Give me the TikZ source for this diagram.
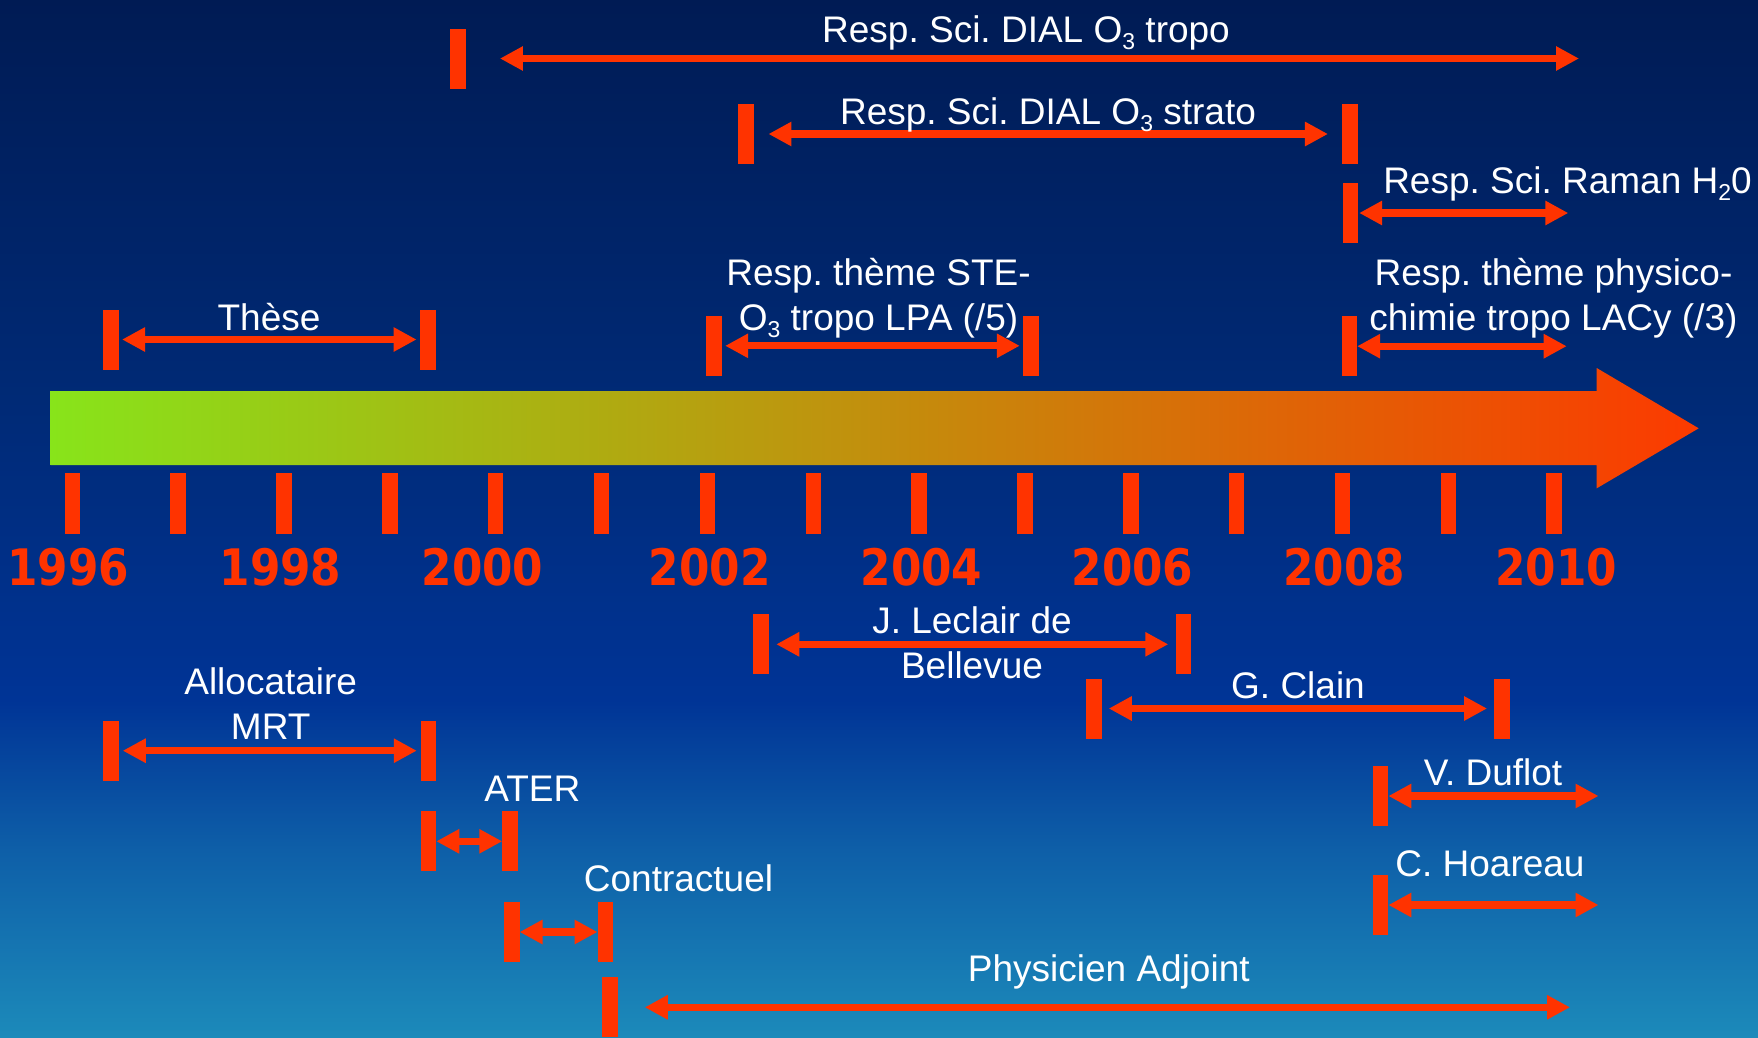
\documentclass[tikz,border=0pt]{standalone}
\usepackage{graphicx}
\usepackage{fontspec}
\setmainfont{Liberation Sans}
\newfontfamily\yearfont{DejaVu Sans}
\usetikzlibrary{arrows.meta}
\definecolor{tlred}{RGB}{255,51,0}
\definecolor{bgtop}{RGB}{0,27,84}
\definecolor{bga}{RGB}{0,42,118}
\definecolor{bgb}{RGB}{0,52,150}
\definecolor{bgc}{RGB}{14,95,168}
\definecolor{bgbot}{RGB}{28,138,186}
\definecolor{arrgreen}{RGB}{136,228,26}
\definecolor{arrred}{RGB}{252,58,0}
\pgfdeclareverticalshading{bgshade}{100bp}{color(0bp)=(bgbot); color(25bp)=(bgbot); color(34bp)=(bgc); color(41.25bp)=(bgb); color(55.7bp)=(bga); color(75bp)=(bgtop); color(100bp)=(bgtop)}
\newcommand\lowidx[1]{\raisebox{-7.5pt}{\fontsize{23}{23}\selectfont #1}}
\frenchspacing
\begin{document}
\begin{tikzpicture}[x=1pt,y=-1pt,
  spanbar/.style={rectangle, fill=tlred, minimum width=15.5pt, minimum height=60pt, inner sep=0pt, outer sep=0pt},
  spanarrow/.style={draw=tlred, line width=7.3pt, arrows={Triangle[length=23pt,width=23pt]-Triangle[length=23pt,width=23pt]}},
  lbl/.style={text=white, font=\frenchspacing\fontsize{37}{44.5}\selectfont, inner sep=0pt, anchor=base, align=center},
  yr/.style={text=tlred, font=\yearfont\bfseries\fontsize{50.3}{50}\selectfont, inner sep=0pt, anchor=base}]
\useasboundingbox (0,0) rectangle (1758,1037);
\shade[shading=bgshade] (0,0) rectangle (1758,1037);

% timeline arrow
\shade[left color=arrgreen, right color=arrred] (50.5,391) -- (1596.7,391) -- (1596.7,368) -- (1698.7,428.3) -- (1596.7,488.3) -- (1596.7,465) -- (50.5,465) -- cycle;
\foreach \k in {0,...,14}
  \fill[tlred] ({72.3+105.85*\k-7.75},473.3) rectangle ++(15.5,60.7);
\node[yr] (y1996) at (68,585) {\scalebox{0.87}[1]{1996}};
\node[yr] (y1998) at (280.5,585) {\scalebox{0.87}[1]{1998}};
\node[yr] (y2000) at (482.5,585) {\scalebox{0.87}[1]{2000}};
\node[yr] (y2002) at (709.8,585) {\scalebox{0.87}[1]{2002}};
\node[yr] (y2004) at (921.5,585) {\scalebox{0.87}[1]{2004}};
\node[yr] (y2006) at (1132.5,585) {\scalebox{0.87}[1]{2006}};
\node[yr] (y2008) at (1344,585) {\scalebox{0.87}[1]{2008}};
\node[yr] (y2010) at (1556,585) {\scalebox{0.87}[1]{2010}};

% top spans
\node[spanbar] (tr1) at (458.2,58.5) {};
\coordinate (tr2) at (1579,58.5);
\draw[spanarrow, shorten <=34pt] (tr1) -- (tr2);
\node[lbl] (trl) at (1026,42.3) {Resp. Sci. DIAL O\lowidx{3} tropo};

\node[spanbar] (st1) at (746.2,134) {};
\node[spanbar] (st2) at (1350.2,134) {};
\draw[spanarrow, shorten <=14.5pt, shorten >=14.5pt] (st1) -- (st2);
\node[lbl] (stl) at (1048,124.3) {Resp. Sci. DIAL O\lowidx{3} strato};

\node[spanbar] (ra1) at (1350.4,213) {};
\coordinate (ra2) at (1568.3,213);
\draw[spanarrow, shorten <=1pt] (ra1) -- (ra2);
\node[lbl] (ral) at (1567.5,193.3) {Resp. Sci. Raman H\lowidx{2}0};

\node[spanbar] (th1) at (110.8,339.5) {};
\node[spanbar] (th2) at (427.8,339.5) {};
\draw[spanarrow, shorten <=3.5pt, shorten >=3.5pt] (th1) -- (th2);
\node[lbl] (thl) at (269,330) {Thèse};

\node[spanbar] (ste1) at (713.9,345.8) {};
\node[spanbar] (ste2) at (1031,345.8) {};
\draw[spanarrow, shorten <=3.5pt, shorten >=3.5pt] (ste1) -- (ste2);
\node[lbl] (stel) at (878.5,330) {Resp. thème STE-\\O\lowidx{3} tropo LPA (/5)};

\node[spanbar] (ph1) at (1349.4,346.2) {};
\coordinate (ph2) at (1566.7,346.2);
\draw[spanarrow] (ph1) -- (ph2);
\node[lbl] (phl) at (1553.5,330) {Resp. thème physico-\\chimie tropo LACy (/3)};

% bottom spans
\node[spanbar] (jl1) at (761,644.3) {};
\node[spanbar] (jl2) at (1183.5,644.3) {};
\draw[spanarrow, shorten <=7.5pt, shorten >=7.5pt] (jl1) -- (jl2);
\node[lbl] (jll) at (972,678.3) {J. Leclair de\\Bellevue};

\node[spanbar] (gc1) at (1094,708.5) {};
\node[spanbar] (gc2) at (1501.8,708.5) {};
\draw[spanarrow, shorten <=7pt, shorten >=7pt] (gc1) -- (gc2);
\node[lbl] (gcl) at (1298,698.3) {G. Clain};

\node[spanbar] (am1) at (111,750.7) {};
\node[spanbar] (am2) at (428.5,750.7) {};
\draw[spanarrow, shorten <=4pt, shorten >=4pt] (am1) -- (am2);
\node[lbl] (aml) at (270.7,739.3) {Allocataire\\MRT};

\node[spanbar] (at1) at (428.5,841.3) {};
\node[spanbar] (at2) at (510,841.3) {};
\draw[spanarrow] (at1) -- (at2);
\node[lbl] (atl) at (532.4,801) {ATER};

\node[spanbar] (co1) at (511.8,932) {};
\node[spanbar] (co2) at (605.3,932) {};
\draw[spanarrow] (co1) -- (co2);
\node[lbl] (col) at (678.5,891.7) {Contractuel};

\node[spanbar] (pa1) at (610,1007.3) {};
\coordinate (pa2) at (1570,1007.3);
\draw[spanarrow, shorten <=27pt] (pa1) -- (pa2);
\node[lbl] (pal) at (1108.8,981.7) {Physicien Adjoint};

\node[spanbar] (vd1) at (1380.6,796) {};
\coordinate (vd2) at (1598.5,796);
\draw[spanarrow] (vd1) -- (vd2);
\node[lbl] (vdl) at (1493,785.7) {V. Duflot};

\node[spanbar] (ch1) at (1380.6,905) {};
\coordinate (ch2) at (1598.5,905);
\draw[spanarrow] (ch1) -- (ch2);
\node[lbl] (chl) at (1490,876.7) {C. Hoareau};
\end{tikzpicture}
\end{document}
